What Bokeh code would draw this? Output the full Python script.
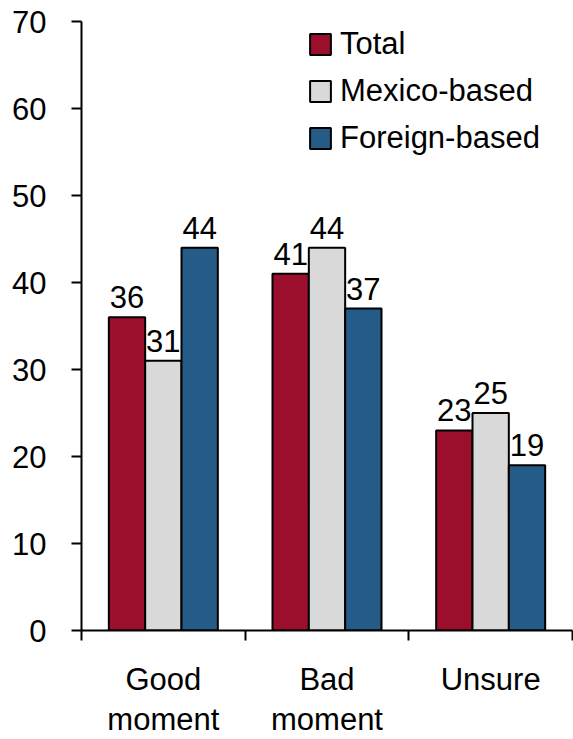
from bokeh.plotting import figure
from bokeh.models import (ColumnDataSource, FixedTicker, Legend, LegendItem, Range1d)
from bokeh.transform import dodge
from bokeh.core.properties import value
from bokeh.embed import file_html
from bokeh.resources import INLINE
import numpy as np

categories = ["Good\nmoment", "Bad\nmoment", "Unsure"]
total = [36, 41, 23]
mexico_based = [31, 44, 25]
foreign_based = [44, 37, 19]
series_names = ["Total", "Mexico-based", "Foreign-based"]
colors = ["#9b0f2d", "#d9d9d9", "#255b87"]
y_ticks = [0, 10, 20, 30, 40, 50, 60, 70]

FONT = "Liberation Sans"
FS = "31px"

x_centers = np.arange(len(categories)) + 0.5
src = ColumnDataSource(dict(x=x_centers, total=total, mexico=mexico_based, foreign=foreign_based,
                            total_t=[str(v) for v in total], mexico_t=[str(v) for v in mexico_based],
                            foreign_t=[str(v) for v in foreign_based]))

p = figure(width=573, height=739, output_backend="svg", toolbar_location=None,
           x_range=Range1d(0, 3), y_range=Range1d(0, 70),
           min_border_left=81, min_border_right=1, min_border_top=21, min_border_bottom=109)
p.outline_line_color = None
p.grid.grid_line_color = None
p.background_fill_color = "white"

bw = 0.222
offs = [-bw, 0.0, bw]
cols = ["total", "mexico", "foreign"]
renderers = []
for name, c, off, col in zip(series_names, colors, offs, cols):
    r = p.vbar(x=dodge("x", off), top=col, width=bw, bottom=0, source=src,
               fill_color=c, line_color="black", line_width=2)
    renderers.append(r)
    p.text(x=dodge("x", off), y=col, text=col + "_t", source=src,
           text_align="center", text_baseline="bottom", y_offset=-9,
           text_font=value(FONT), text_font_size=FS, text_color="black")

legend = Legend(items=[LegendItem(label=n, renderers=[r]) for n, r in zip(series_names, renderers)],
                location=(226, 474), orientation="vertical")
legend.glyph_width = 26
legend.glyph_height = 26
legend.label_text_font = FONT
legend.label_text_font_size = FS
legend.label_text_color = "black"
legend.label_standoff = 7
legend.spacing = 11
legend.padding = 0
legend.margin = 0
legend.border_line_color = None
legend.background_fill_alpha = 0
p.add_layout(legend)

# y axis
ya = p.yaxis[0]
ya.ticker = FixedTicker(ticks=y_ticks)
ya.major_tick_out = 10
ya.major_tick_in = 0
ya.minor_tick_out = 0
ya.minor_tick_in = 0
ya.axis_line_width = 2
ya.major_tick_line_width = 2
ya.major_label_standoff = 25
ya.major_label_text_font = FONT
ya.major_label_text_font_size = FS
ya.major_label_text_color = "black"
ya.axis_line_color = "black"
ya.major_tick_line_color = "black"

# x axis: labels centred in each category, ticks on category boundaries
xa = p.xaxis[0]
xa.ticker = FixedTicker(ticks=list(x_centers), minor_ticks=list(np.arange(len(categories) + 1)))
xa.major_label_overrides = {float(xc): lab for xc, lab in zip(x_centers, categories)}
xa.major_tick_out = 0
xa.major_tick_in = 0
xa.minor_tick_out = 10
xa.minor_tick_in = 0
xa.minor_tick_line_width = 2
xa.minor_tick_line_color = "black"
xa.axis_line_width = 2
xa.axis_line_color = "black"
xa.major_label_standoff = 21
xa.major_label_text_line_height = 1.15
xa.major_label_text_font = FONT
xa.major_label_text_font_size = FS
xa.major_label_text_color = "black"

open("out.html", "w").write(file_html(p, INLINE))
